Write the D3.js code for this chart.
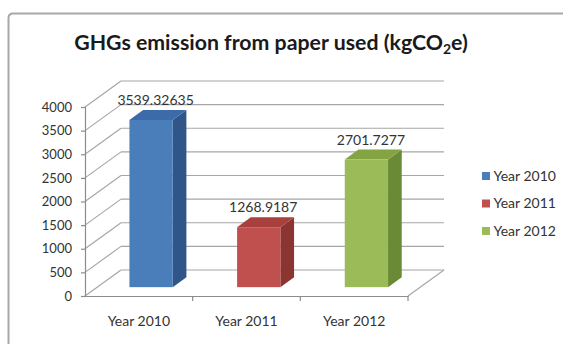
<!DOCTYPE html>
<html>
<head>
<meta charset="utf-8">
<script src="https://cdn.jsdelivr.net/npm/d3@7/dist/d3.min.js"></script>
<style>
  html, body { margin: 0; padding: 0; background: #fff; overflow: hidden; }
  svg { display: block; }
  text { font-family: Lato, "Open Sans", sans-serif; }
</style>
</head>
<body>
<svg id="chart" width="563" height="344"></svg>
<script>
// Chart data
const categories = ["Year 2010", "Year 2011", "Year 2012"];
const values = [3539.32635, 1268.9187, 2701.7277];
const valueLabels = ["3539.32635", "1268.9187", "2701.7277"];
const yTicks = [0, 500, 1000, 1500, 2000, 2500, 3000, 3500, 4000];

// Palette per series: front face, top face, side face
const frontColors = ["#4a7ebb", "#c0504d", "#9bbb59"];
const topColors   = ["#3d6aa8", "#a8413e", "#84a444"];
const sideColors  = ["#2f5589", "#8b3533", "#6a8a36"];

const svg = d3.select("#chart");

// Oblique 3D projection: depth t in [0,1] shifts right and up
const DX = 36, DY = 26;
const x = d3.scaleBand().domain(categories).range([85, 408]).paddingInner(0).paddingOuter(0);
const y = d3.scaleLinear().domain([0, 4000]).range([296, 107]);
const P = (xf, v, t) => [xf + t * DX, y(v) - t * DY];
const line = d3.line();

// Outer chart frame (left and top edges run off the page)
svg.append("path")
  .attr("d", "M8.5,350 V18 Q8.5,13.5 13,13.5 H570")
  .attr("fill", "none")
  .attr("stroke", "#a8a8a8")
  .attr("stroke-width", 2);

// Title with subscript
const title = svg.append("text")
  .attr("x", 271).attr("y", 50)
  .attr("text-anchor", "middle")
  .attr("font-size", 21.3)
  .attr("font-weight", 700)
  .attr("fill", "#1a1a1a");
title.append("tspan").text("GHGs emission from paper used (kgCO");
title.append("tspan").attr("font-size", 14).attr("dy", 4).text("2");
title.append("tspan").attr("dy", -4).text("e)");

// Walls: gridlines on side wall (diagonal) and back wall (horizontal)
const grid = svg.append("g")
  .attr("fill", "none")
  .attr("stroke", "#a6a6a6")
  .attr("stroke-width", 1.2);
const [x0, x1] = x.range();
yTicks.forEach(v => {
  grid.append("path").attr("d", line([P(x0, v, 0), P(x0, v, 1)]));
  grid.append("path").attr("d", line([P(x0, v, 1), P(x1, v, 1)]));
});
// Floor outline
grid.append("path").attr("d", line([P(x1, 0, 0), P(x1, 0, 1)]));

// Axes
const yAxis = svg.append("g")
  .attr("transform", `translate(${x0},0)`)
  .call(d3.axisLeft(y).tickValues(yTicks).tickSize(4).tickPadding(9).tickFormat(d3.format("d")));
yAxis.select(".domain").attr("stroke", "#8c8c8c").attr("stroke-width", 1.2);
yAxis.selectAll(".tick line").attr("stroke", "#8c8c8c").attr("stroke-width", 1.2);
yAxis.selectAll(".tick text")
  .attr("font-size", 13).attr("fill", "#333")
  .style("font-family", "Lato, 'Open Sans', sans-serif");

const xAxis = svg.append("g")
  .attr("transform", `translate(0,${y(0)})`)
  .call(d3.axisBottom(x).tickSize(0).tickPadding(20));
xAxis.select(".domain").attr("stroke", "#8c8c8c").attr("stroke-width", 1.2);
xAxis.selectAll(".tick text")
  .attr("font-size", 14).attr("fill", "#333")
  .style("font-family", "Lato, 'Open Sans', sans-serif");
// Tick marks on category boundaries
categories.forEach(c => {
  const xe = x(c) + x.bandwidth();
  svg.append("line")
    .attr("x1", xe).attr("x2", xe)
    .attr("y1", y(0)).attr("y2", y(0) + 5)
    .attr("stroke", "#8c8c8c").attr("stroke-width", 1.2);
});

// 3D columns
const t0 = 0.34, t1 = 0.72;
const barW = x.bandwidth() * 0.402;
const bars = svg.append("g");
categories.forEach((c, i) => {
  const v = values[i];
  const bx0 = x(c) + (x.bandwidth() - barW) / 2;
  const bx1 = bx0 + barW;
  const g = bars.append("g");
  // side face
  g.append("path")
    .attr("d", line([P(bx1, v, t0), P(bx1, v, t1), P(bx1, 0, t1), P(bx1, 0, t0)]) + "Z")
    .attr("fill", sideColors[i]);
  // top face
  g.append("path")
    .attr("d", line([P(bx0, v, t0), P(bx1, v, t0), P(bx1, v, t1), P(bx0, v, t1)]) + "Z")
    .attr("fill", topColors[i]);
  // front face
  const [fx, fy] = P(bx0, v, t0);
  const [, fb] = P(bx0, 0, t0);
  g.append("rect")
    .attr("x", fx).attr("y", fy)
    .attr("width", barW).attr("height", fb - fy)
    .attr("fill", frontColors[i]);
  // value label above the top face
  const [, ly] = P(bx0, v, t1);
  g.append("text")
    .attr("x", fx + barW / 2 + 4.5).attr("y", ly - 5)
    .attr("text-anchor", "middle")
    .attr("font-size", 14)
    .attr("fill", "#333")
    .text(valueLabels[i]);
});

// Legend
const legend = svg.append("g").attr("transform", "translate(482,176)");
categories.forEach((c, i) => {
  const row = legend.append("g").attr("transform", `translate(0,${i * 27.5})`);
  row.append("rect").attr("x", 0).attr("y", -4).attr("width", 8).attr("height", 8).attr("fill", frontColors[i]);
  row.append("text").attr("x", 11.5).attr("y", 0).attr("dy", "0.35em")
    .attr("font-size", 14).attr("fill", "#333").text(c);
});
</script>
</body>
</html>
